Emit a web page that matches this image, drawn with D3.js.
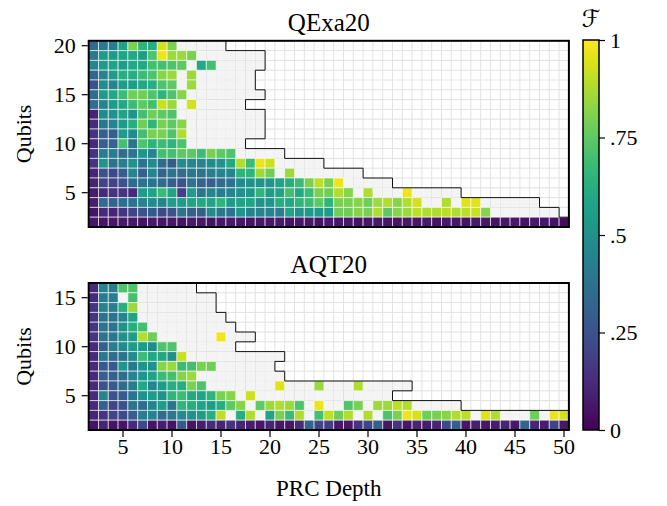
<!DOCTYPE html>
<html><head><meta charset="utf-8">
<script src="https://cdn.jsdelivr.net/npm/d3@7"></script>
<style>
body{margin:0;background:#fff}
text{font-family:"Liberation Serif","DejaVu Serif",serif;fill:#000}
</style></head><body>
<svg id="chart" width="667" height="506"></svg>
<script>
// circuit depths (columns) and tick labels
var depths = [2,3,4,5,6,7,8,9,10,11,12,13,14,15,16,17,18,19,20,21,22,23,24,25,26,
              27,28,29,30,31,32,33,34,35,36,37,38,39,40,41,42,43,44,45,46,47,48,49,50];
var xTicks = [5,10,15,20,25,30,35,40,45,50];
var cbTicks = [0,0.25,0.5,0.75,1];
var cbLabels = ["0",".25",".5",".75","1"];
var n = null;

// QExa20: qubits top to bottom, last depth that was run, fidelity per depth (null = no result)
var qexaQubits = [20,19,18,17,16,15,14,13,12,11,10,9,8,7,6,5,4,3,2];
var qexaMaxDepth = [15,19,19,18,18,19,17,19,19,19,17,21,25,29,32,39,47,49,50];
var qexaTicks = [5,10,15,20];
var qexaFid = [
  [.35,.40,.42,.58,.80,.65,.62,.93,.80],
  [.40,.55,.55,.58,.60,.55,.72,.97,.85,.85,.80],
  [.45,.55,.58,.55,.60,.60,.70,.70,.72,.75,n,.60,.70],
  [.33,.45,.55,.62,.62,.68,.72,.82,.85,n,.85],
  [.25,.48,.45,.55,.55,.60,.62,.72,.75,n,.85],
  [.35,.55,.60,.68,.78,.78,.72,.65,.72,.82],
  [.35,.45,.55,.60,.68,.75,.70,.92,.85,n,.93],
  [.10,.48,.50,.58,.52,.70,.78,.75,.72],
  [.12,.40,.45,.55,.62,.78,.65,.80,.75,.82],
  [.15,.30,.30,.55,.48,.70,.80,.80,.72,.88],
  [.12,.30,.32,.70,.38,.72,.65,.68,.65,.72],
  [.15,.42,.42,.35,.38,.52,.45,.70,.70,.75,.75,.68,.80,.75,.72],
  [.15,.52,.38,.42,.50,.38,.48,.35,.28,.48,.45,.45,.48,.50,.60,.88,.68,.97,.92],
  [.10,.25,.22,.30,.45,.30,.45,.32,.38,.35,.40,.38,.42,.45,.45,.65,.65,.85,.78,n,.85],
  [.10,.20,.20,.25,.35,.38,.38,.35,.30,.25,.38,.32,.30,.35,.38,.48,.50,.50,.52,.58,
   .62,.68,.80,.90,.80,.97],
  [.08,.12,.15,.15,.12,.55,.58,.68,.58,.18,.55,.40,.45,.42,.45,.50,.52,.65,.55,.58,
   .70,.60,.68,.80,.78,.88,.82,n,.88,n,n,n,.97],
  [.08,.35,.32,.35,.38,.45,.48,.45,.55,.55,.58,.60,.58,.65,.55,.58,.58,.50,.52,.62,
   .60,.65,.68,.75,.65,.80,.80,.82,.78,.85,.88,.82,.88,.93,n,n,.88,n,.95,.95],
  [.05,.12,.10,.15,.20,.25,.28,.22,.25,.38,.30,.30,.48,.40,.38,.52,.45,.45,.45,.42,
   .58,.52,.55,.55,.55,.78,.78,.82,.80,.88,.75,.82,.85,.90,.88,.88,.90,.88,.90,.92,.82],
  [.06,.05,.06,.07,.06,.05,.07,.06,.06,.05,.07,.06,.05,.06,.07,.06,.05,.06,.06,.07,
   .05,.06,.06,.05,.07,.06,.06,.05,.06,.07,.06,.05,.06,.06,.07,.05,.06,.06,.05,.07,
   .06,.05,.06,.06,.05,.07,.06,.05,.03]
];

// AQT20
var aqtQubits = [16,15,14,13,12,11,10,9,8,7,6,5,4,3,2];
var aqtMaxDepth = [12,14,14,15,16,18,16,21,20,21,34,32,39,50,50];
var aqtTicks = [5,10,15];
var aqtFid = [
  [.12,.45,.42,.72,.72],
  [.12,.42,.42,n,.70],
  [.15,.45,.42,.62,.85],
  [.15,.38,.38,.45,.58],
  [.15,.38,.38,.50,.62,.70],
  [.15,.38,.40,.50,.55,.88,.78,n,n,n,n,n,n,.98],
  [.12,.30,.42,.48,.55,.55,.48,.72,.72],
  [.12,.40,.35,.38,.48,.68,.60,.60,.50,.92],
  [.12,.28,.28,.52,.40,.52,.50,.82,.85,.68,.70,.80,.78],
  [.12,.30,.30,.35,.45,.52,.58,.68,.70,.82,.85],
  [.12,.25,.28,.35,.42,.60,.45,.55,.62,.62,.80,.72,n,n,n,n,n,n,n,.95,
   n,n,n,.85,n,n,n,.88],
  [.12,.45,.25,.28,.38,.50,.55,.50,.65,.68,.60,.58,.65,.80,.82,n,.92],
  [.12,.30,.20,.25,.38,.35,.45,.55,.38,.65,.62,.58,.55,.62,.75,.82,n,.75,.85,.88,
   .85,.72,n,.97,n,n,.72,.80,n,.85,.85,.90,.88],
  [.10,.15,.20,.22,.30,.42,.45,.35,.40,.48,.50,.55,.62,.90,n,.62,.88,n,.58,.80,
   .68,.88,n,.70,.90,.78,.88,n,.88,n,.72,.80,.97,.93,.78,.80,.82,.88,.90,n,
   .95,.88,n,n,n,.78,n,.97,.93],
  [.05,.10,.05,.05,.12,.22,.05,.08,.05,.28,.05,.08,.12,.10,.15,.10,.08,.06,.10,.06,
   .06,.12,.32,.20,.18,.06,.06,.15,.20,.30,.06,.15,.06,.10,.08,.10,.22,.30,.06,.08,
   .06,.08,.10,.06,.32,.10,.08,.20,.06]
];

var svg = d3.select('#chart');
var left = 88.7, right = 568.9;
var tickFont = '22px';

var x = d3.scaleBand().domain(depths).range([left, right]);
var color = d3.scaleSequential(d3.interpolateViridis).domain([0, 1]);

function drawPanel(qubits, maxDepth, rows, top, bottom, yTicks, title, showX) {
  var y = d3.scaleBand().domain(qubits).range([top, bottom]);
  var bw = x.bandwidth(), bh = y.bandwidth();
  var g = svg.append('g');

  // light grid over the whole panel
  g.selectAll('line.v').data(depths).enter().append('line')
    .attr('x1', function(d) { return x(d); }).attr('x2', function(d) { return x(d); })
    .attr('y1', top).attr('y2', bottom)
    .attr('stroke', '#e2e2e2').attr('stroke-width', 1);
  g.selectAll('line.h').data(qubits).enter().append('line')
    .attr('y1', function(d) { return y(d); }).attr('y2', function(d) { return y(d); })
    .attr('x1', left).attr('x2', right)
    .attr('stroke', '#e2e2e2').attr('stroke-width', 1);

  var cells = [];
  qubits.forEach(function(q, i) {
    depths.forEach(function(d) {
      if (d <= maxDepth[i]) {
        var v = rows[i][d - 2];
        cells.push({q: q, d: d, v: (v === undefined ? null : v)});
      }
    });
  });

  // runs without a result: pale grey, grid left visible
  g.selectAll('rect.empty').data(cells.filter(function(c) { return c.v === null; }))
    .enter().append('rect')
      .attr('x', function(c) { return x(c.d) + 0.5; })
      .attr('y', function(c) { return y(c.q) + 0.5; })
      .attr('width', bw - 1).attr('height', bh - 1)
      .attr('fill', '#f4f4f4');

  g.selectAll('rect.cell').data(cells.filter(function(c) { return c.v !== null; }))
    .enter().append('rect')
      .attr('x', function(c) { return x(c.d); })
      .attr('y', function(c) { return y(c.q); })
      .attr('width', bw).attr('height', bh)
      .attr('fill', function(c) { return color(c.v); })
      .attr('stroke', 'rgba(255,255,255,0.6)').attr('stroke-width', 1);

  // staircase border of the attempted region
  var pts = [];
  qubits.forEach(function(q, i) {
    var xr = x(maxDepth[i]) + bw;
    pts.push([xr, y(q)]);
    pts.push([xr, y(q) + bh]);
  });
  g.append('path').datum(pts)
    .attr('d', d3.line())
    .attr('fill', 'none').attr('stroke', '#111').attr('stroke-width', 1);

  g.append('rect')
    .attr('x', left).attr('y', top).attr('width', right - left).attr('height', bottom - top)
    .attr('fill', 'none').attr('stroke', '#000').attr('stroke-width', 2);

  var ya = g.append('g').attr('transform', 'translate(' + (left - 1) + ',0)')
    .call(d3.axisLeft(y).tickValues(yTicks).tickSize(6).tickPadding(6));
  ya.select('.domain').remove();
  ya.selectAll('text').style('font-size', tickFont).style('font-family', null).attr('dy', '0.34em');
  ya.selectAll('line').attr('stroke-width', 1.2);

  if (showX) {
    var xa = g.append('g').attr('transform', 'translate(0,' + (bottom + 1) + ')')
      .call(d3.axisBottom(x).tickValues(xTicks).tickSize(6).tickPadding(1));
    xa.select('.domain').remove();
    xa.selectAll('text').style('font-size', tickFont).style('font-family', null);
    xa.selectAll('line').attr('stroke-width', 1.2);
  }

  g.append('text').attr('x', (left + right) / 2).attr('y', top - 10)
    .attr('text-anchor', 'middle').style('font-size', '25px').text(title);
  g.append('text')
    .attr('transform', 'translate(31,' + ((top + bottom) / 2) + ') rotate(-90)')
    .attr('text-anchor', 'middle').style('font-size', '22px').text('Qubits');
}

drawPanel(qexaQubits, qexaMaxDepth, qexaFid, 40.8, 227, qexaTicks, 'QExa20', false);
drawPanel(aqtQubits, aqtMaxDepth, aqtFid, 283, 430, aqtTicks, 'AQT20', true);

svg.append('text').attr('x', (left + right) / 2).attr('y', 496)
  .attr('text-anchor', 'middle').style('font-size', '23px').text('PRC Depth');

// colour bar
var cbX = 583, cbW = 16, cbTop = 40, cbBottom = 430;
var cy = d3.scaleLinear().domain([0, 1]).range([cbBottom, cbTop]);
var grad = svg.append('defs').append('linearGradient').attr('id', 'vir')
  .attr('x1', 0).attr('y1', 1).attr('x2', 0).attr('y2', 0);
d3.range(0, 1.0001, 0.05).forEach(function(t) {
  grad.append('stop').attr('offset', t).attr('stop-color', color(t));
});
svg.append('rect').attr('x', cbX).attr('y', cbTop).attr('width', cbW).attr('height', cbBottom - cbTop)
  .attr('fill', 'url(#vir)').attr('stroke', '#000').attr('stroke-width', 1.5);
var ca = svg.append('g').attr('transform', 'translate(' + (cbX + cbW) + ',0)')
  .call(d3.axisRight(cy).tickValues(cbTicks).tickSize(6).tickPadding(5)
    .tickFormat(function(d, i) { return cbLabels[i]; }));
ca.select('.domain').remove();
ca.selectAll('text').style('font-size', tickFont).style('font-family', null);
ca.selectAll('line').attr('stroke-width', 1.2);
svg.append('text').attr('x', cbX + cbW / 2).attr('y', 27)
  .attr('text-anchor', 'middle').style('font-size', '24px').style('font-style', 'italic')
  .style('font-family', '"DejaVu Sans", sans-serif')
  .text('\u2131');
</script></body></html>
